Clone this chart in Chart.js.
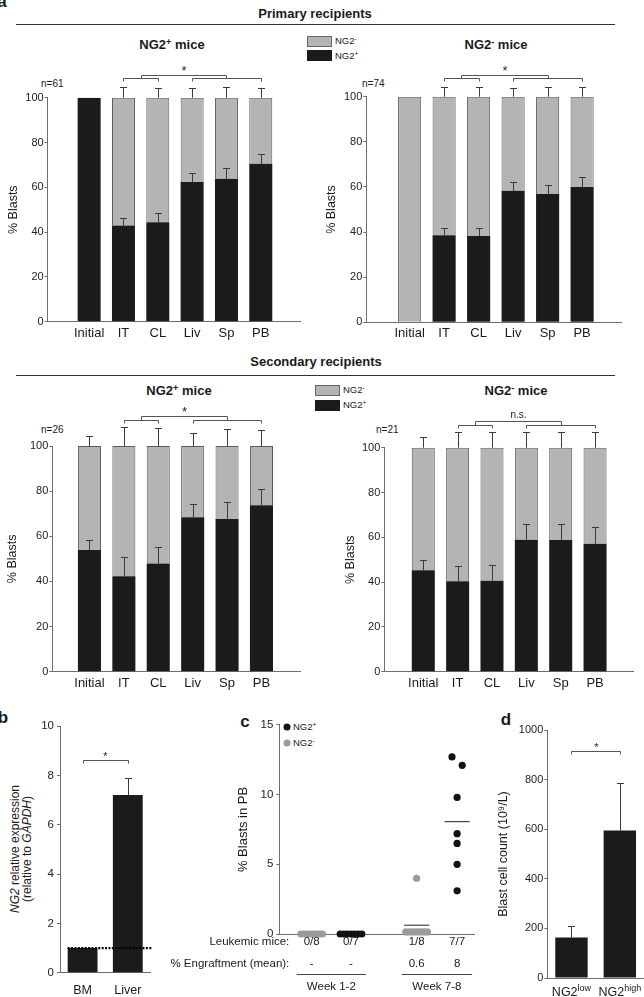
<!DOCTYPE html>
<html>
<head>
<meta charset="utf-8">
<script src="https://cdn.jsdelivr.net/npm/chart.js@4.4.1/dist/chart.umd.min.js"></script>
<style>
  body { margin: 0; background: #fff; }
  #fig { position: relative; width: 644px; height: 997px; overflow: hidden; font-family: "Liberation Sans", Arial, sans-serif; color: #1a1a1a; }
  #fig canvas { position: absolute; }
  .t { position: absolute; white-space: nowrap; line-height: 1; transform: translate(-50%, -50%); }
  .l { transform: translate(0, -50%); }
  .rot { transform: translate(-50%, -50%) rotate(-90deg); text-align: center; }
  .bold { font-weight: bold; font-size: 17px; }
  .ttl { font-size: 13px; font-weight: bold; }
  .sm { font-size: 10px; }
  .lg { font-size: 9.5px; }
  .sup { font-size: 0.7em; position: relative; top: -0.45em; }
  .rule { position: absolute; height: 1px; background: #333; }
  .sq { position: absolute; box-sizing: border-box; width: 25px; height: 11px; }
  .dot { position: absolute; width: 7px; height: 7px; border-radius: 50%; transform: translate(-50%, -50%); }
</style>
</head>
<body>
<div id="fig">
  <div class="t bold" style="left:2px;top:1px">a</div>
  <div class="t ttl" style="left:315px;top:13px">Primary recipients</div>
  <div class="rule" style="left:16px;top:24px;width:599px"></div>
  <div class="t ttl" style="left:172px;top:45px">NG2<span class="sup">+</span> mice</div>
  <div class="t ttl" style="left:496px;top:45px">NG2<span class="sup">-</span> mice</div>
  <div class="sq" style="left:307px;top:36px;background:#b4b4b4;border:1px solid #666"></div>
  <div class="sq" style="left:307px;top:50px;background:#1b1b1b"></div>
  <div class="t l lg" style="left:335px;top:41px">NG2<span class="sup">-</span></div>
  <div class="t l lg" style="left:335px;top:56px">NG2<span class="sup">+</span></div>
  <div class="t l sm" style="left:41px;top:84px">n=61</div>
  <div class="t l sm" style="left:362px;top:84px">n=74</div>

  <div class="t ttl" style="left:316px;top:361px">Secondary recipients</div>
  <div class="rule" style="left:16px;top:375px;width:599px"></div>
  <div class="t ttl" style="left:179px;top:391px">NG2<span class="sup">+</span> mice</div>
  <div class="t ttl" style="left:516px;top:391px">NG2<span class="sup">-</span> mice</div>
  <div class="sq" style="left:315px;top:385px;background:#b4b4b4;border:1px solid #666"></div>
  <div class="sq" style="left:315px;top:400px;background:#1b1b1b"></div>
  <div class="t l lg" style="left:343px;top:390px">NG2<span class="sup">-</span></div>
  <div class="t l lg" style="left:343px;top:405px">NG2<span class="sup">+</span></div>
  <div class="t l sm" style="left:41px;top:430px">n=26</div>
  <div class="t l sm" style="left:376px;top:430px">n=21</div>

  <div class="t bold" style="left:3px;top:717px">b</div>
  <div class="t rot" style="left:21px;top:849px;font-size:12px;line-height:12px"><i>NG2</i> relative expression<br>(relative to <i>GAPDH</i>)</div>
  <div class="t bold" style="left:245px;top:721px">c</div>
  <div class="dot" style="left:287px;top:727px;background:#121212"></div>
  <div class="t l lg" style="left:293px;top:727px">NG2<span class="sup">+</span></div>
  <div class="dot" style="left:287px;top:743px;background:#9b9b9b"></div>
  <div class="t l lg" style="left:293px;top:743px">NG2<span class="sup">-</span></div>
  <div class="t bold" style="left:506px;top:719px">d</div>

  <canvas id="priPos"></canvas>
  <canvas id="priNeg"></canvas>
  <canvas id="secPos"></canvas>
  <canvas id="secNeg"></canvas>
  <canvas id="panelB"></canvas>
  <canvas id="panelC"></canvas>
  <canvas id="panelD"></canvas>
</div>
<script>
Chart.defaults.font.family = '"Liberation Sans", Arial, sans-serif'
Chart.defaults.color = '#1a1a1a'
Chart.defaults.animation = false
Chart.defaults.responsive = false
Chart.defaults.plugins.legend.display = false
Chart.defaults.plugins.tooltip.enabled = false

let AXIS = '#6e6e6e'
let BLACK = '#1b1b1b'
let GRAY = '#b4b4b4'
let FONT = '"Liberation Sans", Arial, sans-serif'

// panel a - % NG2+ blasts (black part) per site, with SEM
let sites = ['Initial', 'IT', 'CL', 'Liv', 'Sp', 'PB']
let priPosVals = [100, 42.9, 44.4, 62.4, 63.8, 70.5]
let priPosErr = [0, 3.3, 4.0, 4.2, 4.6, 4.3]
let priPosTopErr = [0, 4.6, 4.3, 4.5, 4.8, 4.5]
let priNegVals = [0, 38.6, 38.3, 58.3, 56.9, 60.0]
let priNegErr = [0, 3.4, 3.7, 3.8, 3.8, 4.3]
let priNegTopErr = [0, 4.2, 4.2, 4.0, 4.4, 4.4]
let secPosVals = [53.9, 42.3, 47.9, 68.4, 67.7, 73.7]
let secPosErr = [4.6, 8.4, 7.5, 5.9, 7.5, 7.4]
let secPosTopErr = [4.4, 8.6, 7.8, 5.9, 7.4, 7.1]
let secNegVals = [45.3, 40.4, 40.6, 58.9, 58.8, 57.1]
let secNegErr = [4.6, 6.8, 7.0, 7.0, 7.1, 7.4]
let secNegTopErr = [4.6, 6.8, 7.1, 7.1, 7.1, 7.1]

// panel b
let bCats = ['BM', 'Liver']
let bVals = [1.0, 7.2]
let bErr = [0, 0.7]
let bRef = 1

// panel c
let cGroupX = [1, 2, 3.67, 4.7]
let cNegWk12 = [0, 0, 0, 0, 0, 0, 0, 0]
let cPosWk12 = [0, 0, 0, 0, 0, 0, 0]
let cNegWk78 = [4.0, 0.15, 0.15, 0.15, 0.15, 0.15, 0.15, 0.15]
let cPosWk78 = [12.7, 12.1, 9.8, 7.2, 6.5, 5.0, 3.1]
let cLeukemic = ['0/8', '0/7', '1/8', '7/7']
let cEngraft = ['-', '-', '0.6', '8']
let cWeeks = ['Week 1-2', 'Week 7-8']

// panel d
let dCats = ['NG2low', 'NG2high']
let dVals = [163, 595]
let dErr = [45, 190]

function place(cv, box) {
  cv.width = box.w
  cv.height = box.h
  cv.style.left = box.left + 'px'
  cv.style.top = box.top + 'px'
}

function topOf(d) {
  if (d == null) return null
  if (typeof d === 'number') return d
  return Array.isArray(d.y) ? d.y[1] : d.y
}

let errorBars = {
  id: 'errorBars',
  afterDatasetsDraw(chart) {
    let ctx = chart.ctx, ys = chart.scales.y
    chart.data.datasets.forEach((ds, di) => {
      if (!ds.errors) return
      let meta = chart.getDatasetMeta(di)
      ctx.save()
      ctx.strokeStyle = '#3a3a3a'
      ctx.lineWidth = 1
      ds.errors.forEach((e, i) => {
        let top = topOf(ds.data[i])
        if (!e || top == null) return
        let x = Math.round(meta.data[i].x) + 0.5
        let y0 = ys.getPixelForValue(top)
        let y1 = Math.round(ys.getPixelForValue(top + e)) + 0.5
        ctx.beginPath()
        ctx.moveTo(x, y0); ctx.lineTo(x, y1)
        ctx.moveTo(x - 3.5, y1); ctx.lineTo(x + 3.5, y1)
        ctx.stroke()
      })
      ctx.restore()
    })
  }
}

let brackets = {
  id: 'brackets',
  afterDraw(chart, args, o) {
    if (!o.pairs) return
    let ctx = chart.ctx, xs = chart.scales.x, ys = chart.scales.y
    let px = v => Math.round(xs.getPixelForValue(v)) + 0.5
    let lo = Math.round(ys.getPixelForValue(o.low)) + 0.5
    ctx.save()
    ctx.strokeStyle = '#555'
    ctx.lineWidth = 1
    ctx.beginPath()
    let mids = []
    o.pairs.forEach(p => {
      ctx.moveTo(px(p[0]), lo + 3); ctx.lineTo(px(p[0]), lo)
      ctx.lineTo(px(p[1]), lo); ctx.lineTo(px(p[1]), lo + 3)
      mids.push((p[0] + p[1]) / 2)
    })
    let textX = px(mids[0]), textY = lo - o.gap
    if (mids.length > 1) {
      let hi = Math.round(ys.getPixelForValue(o.high)) + 0.5
      mids.forEach(m => { ctx.moveTo(px(m), lo); ctx.lineTo(px(m), hi) })
      ctx.moveTo(px(mids[0]), hi); ctx.lineTo(px(mids[mids.length - 1]), hi)
      textX = (px(mids[0]) + px(mids[mids.length - 1])) / 2
      textY = hi - o.gap
    }
    ctx.stroke()
    ctx.fillStyle = '#222'
    ctx.font = o.size + 'px ' + FONT
    ctx.textAlign = 'center'
    ctx.textBaseline = 'alphabetic'
    ctx.fillText(o.text, textX, textY)
    ctx.restore()
  }
}

Chart.register(errorBars, brackets)

function yAxis(min, max, step, box, title) {
  return {
    min: min, max: max,
    ticks: { stepSize: step, font: { size: box.tickSize || 11 }, padding: box.tickPad, color: '#222', callback: v => String(v) },
    grid: { drawOnChartArea: false, tickLength: 3, color: AXIS },
    border: { color: AXIS },
    title: title ? {
      display: true, text: title, font: { size: box.titleSize || 12.5 },
      padding: { top: box.titleX - box.left - (box.titleSize || 12.5) * 0.6, bottom: 0 }
    } : { display: false },
    afterFit: s => { s.width = box.yW }
  }
}

function blastsChart(id, box, vals, err, topErr, sig) {
  let cv = document.getElementById(id)
  place(cv, box)
  return new Chart(cv, {
    type: 'bar',
    data: {
      datasets: [
        { data: vals.map((v, i) => ({ x: i, y: v })), backgroundColor: BLACK, errors: err },
        { data: vals.map((v, i) => ({ x: i, y: v < 100 ? [v, 100] : null })), backgroundColor: GRAY,
          borderColor: '#5c5c5c', borderWidth: 1, borderSkipped: 'bottom', errors: topErr }
      ]
    },
    options: {
      datasets: { bar: { grouped: false, barPercentage: 0.67, categoryPercentage: 1 } },
      layout: { padding: { left: 0, top: box.padT, right: box.padR, bottom: 0 } },
      scales: {
        x: {
          type: 'linear', min: box.xr[0], max: box.xr[1],
          afterBuildTicks: s => { s.ticks = sites.map((_, i) => ({ value: i })) },
          ticks: { callback: v => sites[v], font: { size: 13 }, padding: 3.5, maxRotation: 0, autoSkip: false, color: '#1a1a1a' },
          grid: { display: false, drawTicks: false },
          border: { color: AXIS },
          afterFit: s => { s.height = box.xH }
        },
        y: yAxis(0, 100, 20, box, '% Blasts')
      },
      plugins: { brackets: sig }
    }
  })
}

blastsChart('priPos',
  { left: 0, top: 60, w: 322, h: 285, yW: 47.7, padT: 37.7, padR: 22, xH: 23.3, titleX: 13.8, tickPad: 1, xr: [-0.595, 5.53] },
  priPosVals, priPosErr, priPosTopErr,
  { pairs: [[1, 2], [3, 5]], low: 108.7, high: 110, gap: 0.5, text: '*', size: 13 })

blastsChart('priNeg',
  { left: 322, top: 60, w: 322, h: 285, yW: 44.3, padT: 36.7, padR: 22.7, xH: 22.7, titleX: 332, tickPad: 1, xr: [-0.64, 5.52] },
  priNegVals, priNegErr, priNegTopErr,
  { pairs: [[1, 2], [3, 5]], low: 108.2, high: 109.5, gap: 0.5, text: '*', size: 13 })

blastsChart('secPos',
  { left: 0, top: 400, w: 322, h: 297, yW: 52.3, padT: 46, padR: 22, xH: 25.3, titleX: 12.8, tickPad: 1, xr: [-0.48, 5.52] },
  secPosVals, secPosErr, secPosTopErr,
  { pairs: [[1, 2], [3, 5]], low: 111.4, high: 113.2, gap: 0.5, text: '*', size: 13 })

blastsChart('secNeg',
  { left: 322, top: 400, w: 322, h: 297, yW: 62.3, padT: 47.7, padR: 10.3, xH: 25.3, titleX: 350.8, tickPad: 1, xr: [-0.53, 5.52] },
  secNegVals, secNegErr, secNegTopErr,
  { pairs: [[1, 2], [3, 5]], low: 110.1, high: 111.9, gap: 4, text: 'n.s.', size: 10 })

// panel b
let bBox = { left: 0, top: 715, w: 160, h: 282, yW: 60, padT: 11, padR: 9.6, xH: 24.3, tickPad: 3, tickSize: 11.5 }
let refLine = {
  id: 'refLine',
  afterDatasetsDraw(chart) {
    let ctx = chart.ctx, a = chart.chartArea
    let bar = chart.getDatasetMeta(0).data[0]
    let y = chart.scales.y.getPixelForValue(bRef)
    ctx.save()
    ctx.strokeStyle = '#000'
    ctx.lineWidth = 2.2
    ctx.setLineDash([2, 1.4])
    ctx.beginPath()
    ctx.moveTo(bar.x - bar.width / 2, y)
    ctx.lineTo(a.right + 2, y)
    ctx.stroke()
    ctx.restore()
  }
}
let cvB = document.getElementById('panelB')
place(cvB, bBox)
new Chart(cvB, {
  type: 'bar',
  data: { labels: bCats, datasets: [{ data: bVals, backgroundColor: BLACK, errors: bErr, barPercentage: 0.66, categoryPercentage: 1 }] },
  options: {
    layout: { padding: { left: 0, top: bBox.padT, right: bBox.padR, bottom: 0 } },
    scales: {
      x: {
        grid: { display: false, drawTicks: false }, border: { color: AXIS },
        ticks: { font: { size: 12.5 }, padding: 10, color: '#1a1a1a' },
        afterFit: s => { s.height = bBox.xH }
      },
      y: yAxis(0, 10, 2, bBox, null)
    },
    plugins: { brackets: { pairs: [[0, 1]], low: 8.62, gap: 0.5, text: '*', size: 11 } }
  },
  plugins: [refLine]
})

// panel c
function swarm(vals, gx) {
  // points with (nearly) the same value are spread sideways
  let sorted = vals.slice().sort((a, b) => b - a)
  let out = [], k = 0
  while (k < sorted.length) {
    let j = k
    while (j + 1 < sorted.length && sorted[j] - sorted[j + 1] < 0.65) j++
    let n = j - k + 1
    let w = Math.min(0.55, 0.26 * (n - 1))
    for (let m = 0; m < n; m++) {
      out.push({ x: gx + (n > 1 ? -w / 2 + m * w / (n - 1) : 0), y: sorted[k + m] })
    }
    k = j + 1
  }
  return out
}

function meanLine(vals, gx) {
  let m = vals.reduce((a, b) => a + b, 0) / vals.length
  return { type: 'line', data: [{ x: gx - 0.32, y: m }, { x: gx + 0.32, y: m }],
    borderColor: '#222', borderWidth: 1, pointRadius: 0, showLine: true }
}

let cBox = { left: 160, top: 715, w: 320, h: 282, yW: 119.3, padT: 9, padR: 6, xH: 63, titleX: 243, titleSize: 13, tickPad: 3, tickSize: 11.5 }
let cRows = {
  id: 'cRows',
  afterDraw(chart) {
    let ctx = chart.ctx, xs = chart.scales.x, a = chart.chartArea
    ctx.save()
    ctx.font = '11.5px ' + FONT
    ctx.fillStyle = '#1a1a1a'
    ctx.textBaseline = 'middle'
    ctx.textAlign = 'right'
    ctx.fillText('Leukemic mice:', a.left + 10, a.bottom + 8)
    ctx.fillText('% Engraftment (mean):', a.left + 10, a.bottom + 29.5)
    ctx.textAlign = 'center'
    cGroupX.forEach((g, i) => {
      let x = xs.getPixelForValue(g)
      ctx.fillText(cLeukemic[i], x, a.bottom + 8)
      ctx.fillText(cEngraft[i], x, a.bottom + 29.5)
    })
    ctx.strokeStyle = '#444'
    ctx.lineWidth = 1
    cWeeks.forEach((w, k) => {
      let x0 = xs.getPixelForValue(cGroupX[2 * k]) - 15
      let x1 = xs.getPixelForValue(cGroupX[2 * k + 1]) + 15
      let y = Math.round(a.bottom + 40) + 0.5
      ctx.beginPath(); ctx.moveTo(x0, y); ctx.lineTo(x1, y); ctx.stroke()
      ctx.fillText(w, (x0 + x1) / 2, a.bottom + 52.5)
    })
    ctx.restore()
  }
}
let cvC = document.getElementById('panelC')
place(cvC, cBox)
new Chart(cvC, {
  type: 'scatter',
  data: {
    datasets: [
      { data: swarm(cNegWk12, cGroupX[0]).concat(swarm(cNegWk78, cGroupX[2])), backgroundColor: '#9b9b9b', pointRadius: 3.6, borderWidth: 0, clip: false },
      { data: swarm(cPosWk12, cGroupX[1]).concat(swarm(cPosWk78, cGroupX[3])), backgroundColor: '#121212', pointRadius: 3.6, borderWidth: 0, clip: false },
      meanLine(cNegWk78, cGroupX[2]),
      meanLine(cPosWk78, cGroupX[3])
    ]
  },
  options: {
    layout: { padding: { left: 0, top: cBox.padT, right: cBox.padR, bottom: 0 } },
    scales: {
      x: {
        type: 'linear', min: 0.176, max: 5.13,
        ticks: { display: false }, grid: { display: false, drawTicks: false }, border: { color: AXIS },
        afterFit: s => { s.height = cBox.xH }
      },
      y: yAxis(0, 15, 5, cBox, '% Blasts in PB')
    }
  },
  plugins: [cRows]
})

// panel d
let dBox = { left: 470, top: 715, w: 174, h: 282, yW: 77.3, padT: 15, padR: 0, xH: 19, titleX: 504, tickPad: 1 }
let dLabels = {
  id: 'dLabels',
  afterDraw(chart) {
    let ctx = chart.ctx, xs = chart.scales.x, a = chart.chartArea
    ctx.save()
    ctx.fillStyle = '#1a1a1a'
    ctx.textAlign = 'left'
    ctx.textBaseline = 'alphabetic'
    dCats.forEach((lab, i) => {
      let base = lab.slice(0, 3), sup = lab.slice(3)
      ctx.font = '12.5px ' + FONT
      let w1 = ctx.measureText(base).width
      ctx.font = '9px ' + FONT
      let w2 = ctx.measureText(sup).width
      let x = xs.getPixelForValue(i) - (w1 + w2) / 2
      ctx.font = '12.5px ' + FONT
      ctx.fillText(base, x, a.bottom + 17.5)
      ctx.font = '9px ' + FONT
      ctx.fillText(sup, x + w1, a.bottom + 12.5)
    })
    ctx.restore()
  }
}
let cvD = document.getElementById('panelD')
place(cvD, dBox)
new Chart(cvD, {
  type: 'bar',
  data: { labels: dCats, datasets: [{ data: dVals, backgroundColor: BLACK, errors: dErr, barPercentage: 0.67, categoryPercentage: 1 }] },
  options: {
    layout: { padding: { left: 0, top: dBox.padT, right: dBox.padR, bottom: 0 } },
    scales: {
      x: {
        grid: { display: false, drawTicks: false }, border: { color: AXIS },
        ticks: { display: false },
        afterFit: s => { s.height = dBox.xH }
      },
      y: yAxis(0, 1000, 200, dBox, 'Blast cell count (10⁹/L)')
    },
    plugins: { brackets: { pairs: [[0, 1]], low: 916, gap: 0.5, text: '*', size: 11 } }
  },
  plugins: [dLabels]
})
</script>
</body>
</html>
